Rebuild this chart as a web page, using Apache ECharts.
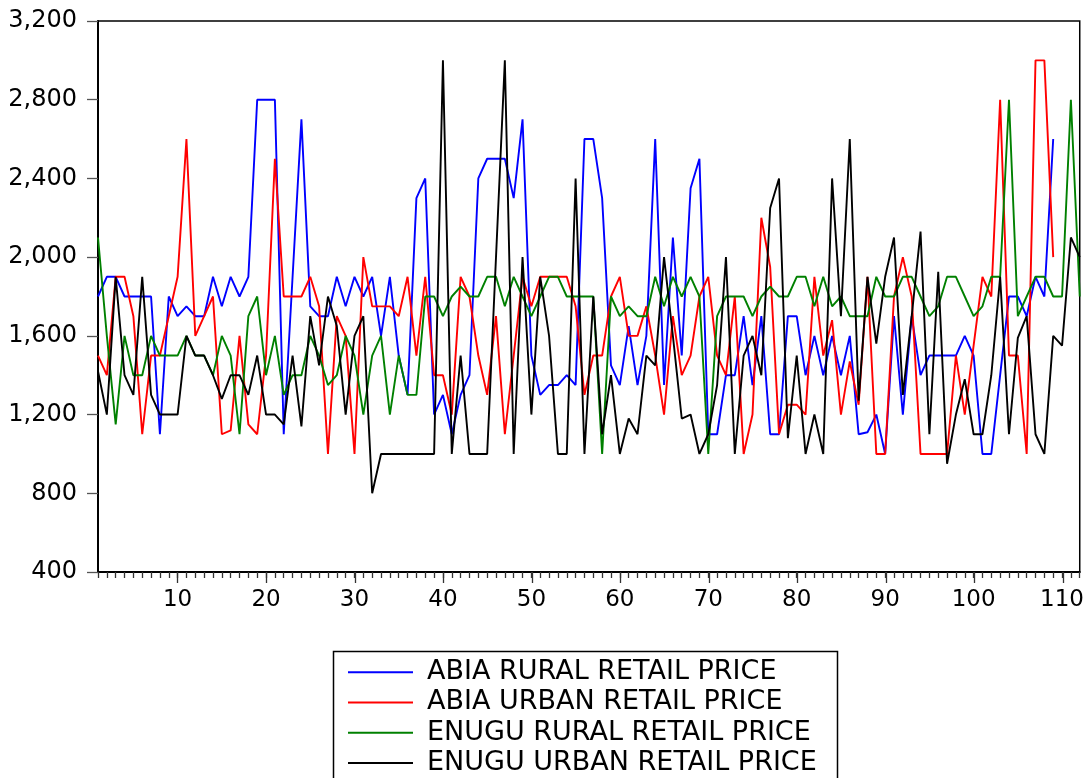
<!DOCTYPE html>
<html>
<head>
<meta charset="utf-8">
<script src="https://cdn.jsdelivr.net/npm/echarts@6/dist/echarts.min.js"></script>
<style>
html,body{margin:0;padding:0;background:#fff;}
#c{width:1087px;height:778px;}
</style>
</head>
<body>
<div id="c"></div>
<script>
// observation index 1..112
const categories = Array.from({length: 112}, (_, i) => String(i + 1));

const seriesNames = [
  'ABIA RURAL RETAIL PRICE',
  'ABIA URBAN RETAIL PRICE',
  'ENUGU RURAL RETAIL PRICE',
  'ENUGU URBAN RETAIL PRICE'
];

const abiaRural = [1800,1900,1900,1800,1800,1800,1800,1100,1800,1700,
 1750,1700,1700,1900,1750,1900,1800,1900,2800,2800,
 2800,1100,1900,2700,1750,1700,1700,1900,1750,1900,
 1800,1900,1600,1900,1500,1300,2300,2400,1200,1300,
 1100,1300,1400,2400,2500,2500,2500,2300,2700,1500,
 1300,1350,1350,1400,1350,2600,2600,2300,1450,1350,
 1650,1350,1600,2600,1350,2100,1500,2350,2500,1100,
 1100,1400,1400,1700,1350,1700,1100,1100,1700,1700,
 1400,1600,1400,1600,1400,1600,1100,1110,1200,1000,
 1700,1200,1700,1400,1500,1500,1500,1500,1600,1500,
 1000,1000,1400,1800,1800,1700,1900,1800,2600,null,
 null,null];

const abiaUrban = [1500,1400,1900,1900,1700,1100,1500,1500,1700,1900,
 2600,1600,1700,1800,1100,1120,1600,1150,1100,1500,
 2500,1800,1800,1800,1900,1750,1000,1700,1600,1000,
 2000,1750,1750,1750,1700,1900,1500,1900,1400,1400,
 1200,1900,1800,1500,1300,1700,1100,1500,1900,1750,
 1900,1900,1900,1900,1750,1300,1500,1500,1800,1900,
 1600,1600,1750,1500,1200,1700,1400,1500,1800,1900,
 1500,1400,1800,1000,1200,2200,1950,1100,1250,1250,
 1200,1900,1500,1680,1200,1470,1250,1900,1000,1000,
 1800,2000,1800,1000,1000,1000,1000,1500,1200,1550,
 1900,1800,2800,1500,1500,1000,3000,3000,2000,null,
 null,null];

const enuguRural = [2100,1600,1150,1600,1400,1400,1600,1500,1500,1500,
 1600,1500,1500,1400,1600,1500,1100,1700,1800,1400,
 1600,1300,1400,1400,1600,1500,1350,1400,1600,1500,
 1200,1500,1600,1200,1500,1300,1300,1800,1800,1700,
 1800,1850,1800,1800,1900,1900,1750,1900,1800,1700,
 1800,1900,1900,1800,1800,1800,1800,1000,1800,1700,
 1750,1700,1700,1900,1750,1900,1800,1900,1800,1000,
 1700,1800,1800,1800,1700,1800,1850,1800,1800,1900,
 1900,1750,1900,1750,1800,1700,1700,1700,1900,1800,
 1800,1900,1900,1800,1700,1750,1900,1900,1800,1700,
 1750,1900,1900,2800,1700,1800,1900,1900,1800,1800,
 2800,1800];

const enuguUrban = [1420,1200,1900,1400,1300,1900,1300,1200,1200,1200,
 1600,1500,1500,1400,1280,1400,1400,1300,1500,1200,
 1200,1150,1500,1140,1700,1450,1800,1650,1200,1600,
 1700,800,1000,1000,1000,1000,1000,1000,1000,3000,
 1000,1500,1000,1000,1000,2000,3000,1000,2000,1200,
 1900,1600,1000,1000,2400,1000,1800,1100,1400,1000,
 1180,1100,1500,1450,2000,1600,1180,1200,1000,1100,
 1350,2000,1000,1500,1600,1400,2250,2400,1080,1500,
 1000,1200,1000,2400,1700,2600,1270,1900,1560,1900,
 2100,1300,1700,2130,1100,1925,950,1200,1380,1100,
 1100,1400,1900,1100,1590,1700,1100,1000,1600,1550,
 2100,2000];

const seriesColors = ['#0000FF', '#FF0000', '#008000', '#000000'];
const seriesData = [abiaRural, abiaUrban, enuguRural, enuguUrban];

const FONT = 'DejaVu Sans';
const chart = echarts.init(document.getElementById('c'), null, {renderer: 'canvas'});

const gridBox = {left: 98, right: 6, top: 21, bottom: 206};

chart.setOption({
  animation: false,
  backgroundColor: '#ffffff',
  color: seriesColors,
  textStyle: {fontFamily: FONT},
  grid: [
    Object.assign({show: true, borderColor: '#000', borderWidth: 1.5, containLabel: false}, gridBox),
    Object.assign({show: false, containLabel: false}, gridBox)
  ],
  xAxis: [
    {
      type: 'category', gridIndex: 0, data: categories, boundaryGap: false,
      axisLine: {show: true, lineStyle: {color: '#000', width: 2}},
      axisTick: {show: true, interval: 0, length: 6, lineStyle: {color: '#333', width: 1.3}},
      axisLabel: {
        interval: (idx) => (idx + 1) % 10 === 0,
        fontSize: 23, fontFamily: FONT, color: '#000', margin: 17
      },
      splitLine: {show: false}
    },
    {
      type: 'category', gridIndex: 1, data: categories, boundaryGap: false,
      axisLine: {show: false},
      axisTick: {show: true, interval: (idx) => (idx + 1) % 10 === 0, length: 11, lineStyle: {color: '#333', width: 1.3}},
      axisLabel: {show: false},
      splitLine: {show: false}
    }
  ],
  yAxis: [
    {
      type: 'value', gridIndex: 0, min: 400, max: 3200, interval: 400,
      axisLine: {show: true, lineStyle: {color: '#000', width: 2}},
      axisTick: {show: true, length: 11, lineStyle: {color: '#555', width: 1.3}},
      axisLabel: {
        fontSize: 24, fontFamily: FONT, color: '#000', margin: 21,
        formatter: (v) => v.toLocaleString('en-US')
      },
      splitLine: {show: false}
    },
    {
      type: 'value', gridIndex: 1, min: 400, max: 3200, interval: 400,
      show: false
    }
  ],
  legend: {
    orient: 'vertical',
    left: 348, top: 657,
    width: 480, height: 160,
    itemWidth: 65, itemHeight: 2, itemGap: 0,
    icon: 'rect',
    padding: 0,
    textStyle: {fontSize: 27, fontFamily: FONT, color: '#000', lineHeight: 30.3, padding: [0, 0, 0, 9]},
    data: seriesNames
  },
  graphic: [
    {
      type: 'rect', silent: true,
      shape: {x: 333.5, y: 651.5, width: 504, height: 160},
      style: {fill: 'none', stroke: '#000', lineWidth: 1.5}
    }
  ],
  series: seriesData.map((d, k) => ({
    name: seriesNames[k],
    type: 'line',
    xAxisIndex: 0, yAxisIndex: 0,
    data: d,
    symbol: 'none',
    showSymbol: false,
    connectNulls: false,
    lineStyle: {width: 1.9, color: seriesColors[k]},
    itemStyle: {color: seriesColors[k]}
  }))
});
</script>
</body>
</html>
